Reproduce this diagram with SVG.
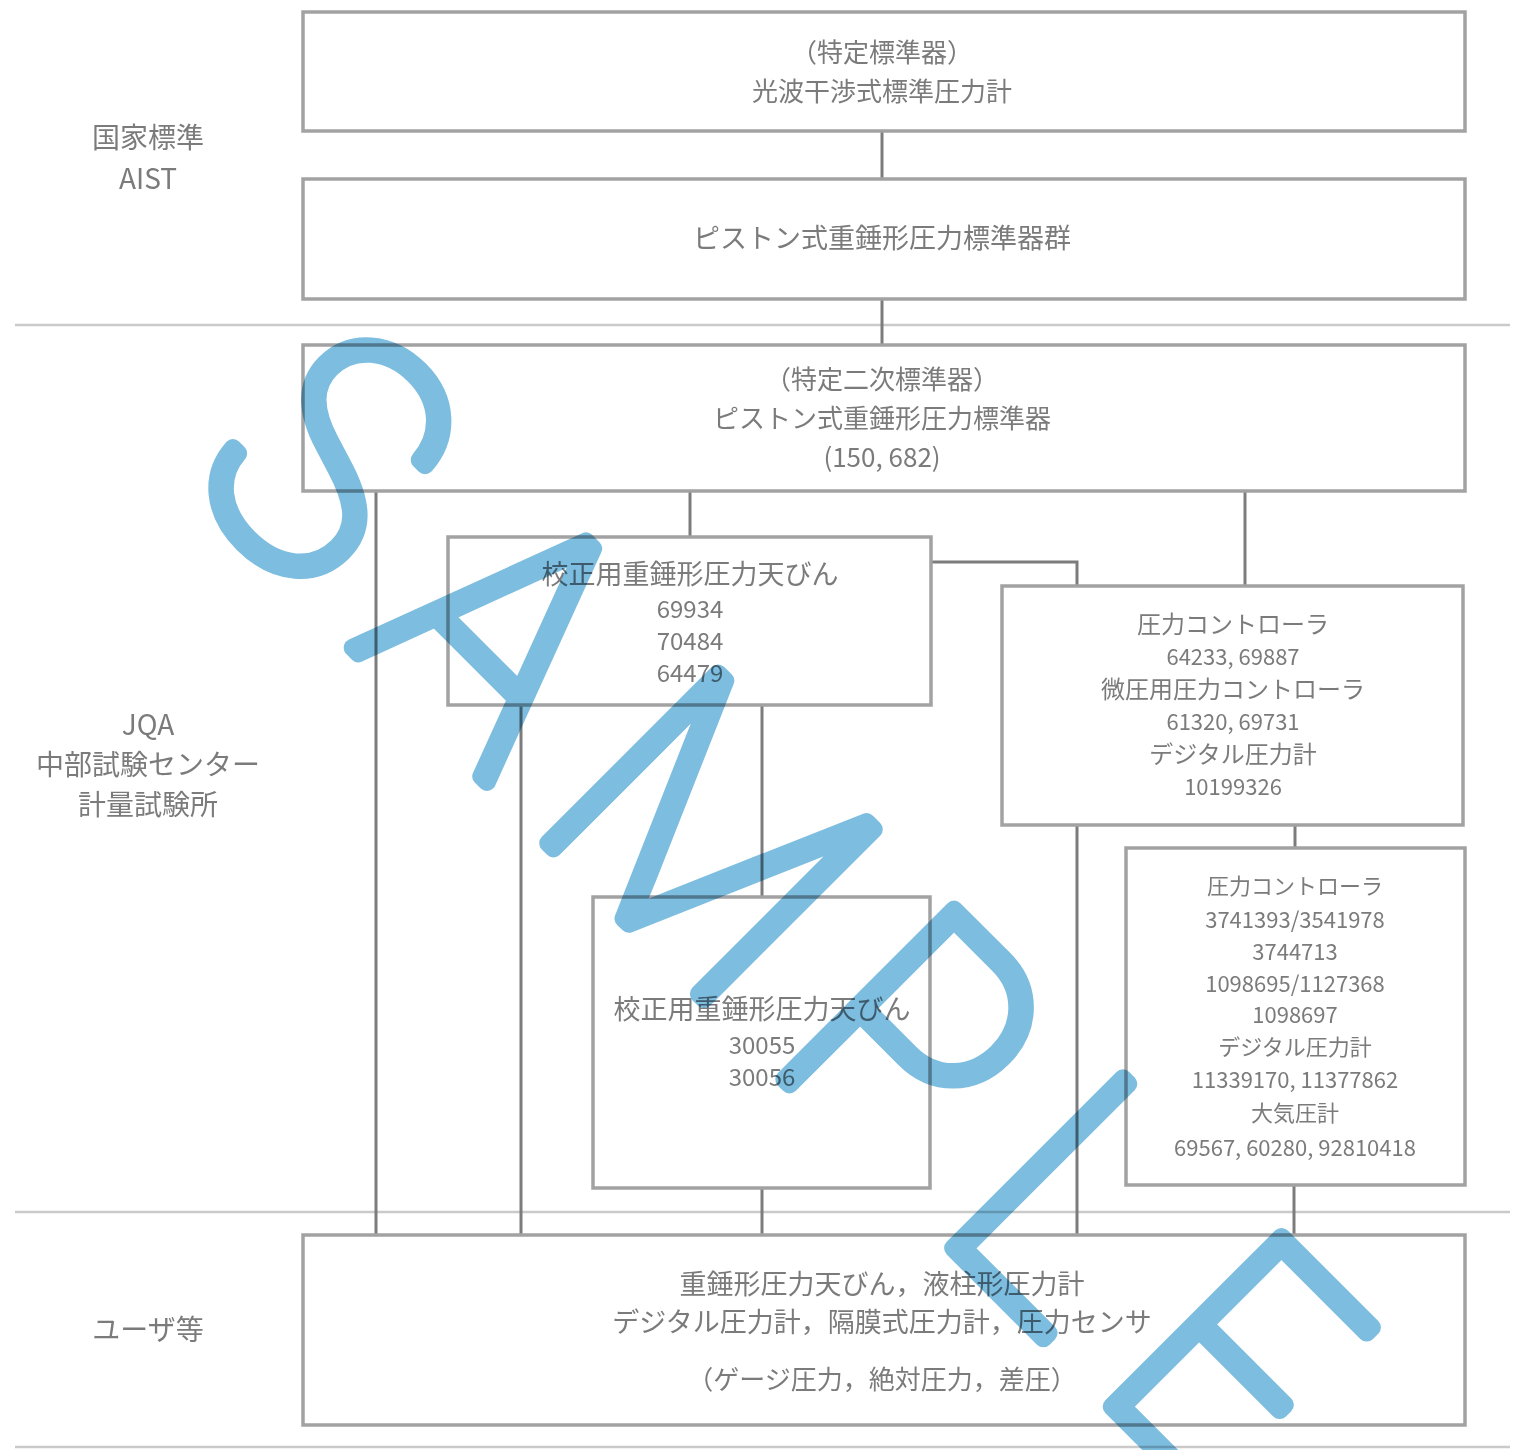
<svg xmlns="http://www.w3.org/2000/svg" width="1523" height="1450" viewBox="0 0 1523 1450">
<style>
.box{fill:none;stroke:#a2a2a2;stroke-width:3.5}
.conn{fill:none;stroke:#7c7c7c;stroke-width:3}
.sep{fill:none;stroke:#cacaca;stroke-width:2.5}
text{font-family:"Noto Sans CJK JP","Liberation Sans",sans-serif;fill:#7b7b7b;text-anchor:middle}
.f26{font-size:26px}.f27{font-size:27px}.f28{font-size:28px}.f24{font-size:24px}.f22{font-size:22px}
.wm{font-family:Inter,Lato,"Noto Sans","DejaVu Sans",sans-serif;font-weight:100;font-size:330px;fill:#7dbddf;stroke:#7dbddf;stroke-width:18;stroke-linejoin:round;stroke-linecap:round;text-anchor:start;mix-blend-mode:multiply}
</style>
<rect width="1523" height="1450" fill="#ffffff"/>
<g id="separators">
<line class="sep" x1="15" y1="325" x2="1510" y2="325"/>
<line class="sep" x1="15" y1="1212" x2="1510" y2="1212"/>
<line class="sep" x1="15" y1="1447" x2="1510" y2="1447"/>
</g>
<g id="connectors">
<path class="conn" d="M882,131V179"/>
<path class="conn" d="M882,299V345"/>
<path class="conn" d="M376,491V1235"/>
<path class="conn" d="M690,491V537"/>
<path class="conn" d="M1245,491V586"/>
<path class="conn" d="M521,705V1235"/>
<path class="conn" d="M762,705V897"/>
<path class="conn" d="M931,562H1077V586"/>
<path class="conn" d="M1077,825V1235"/>
<path class="conn" d="M1295,825V848"/>
<path class="conn" d="M762,1188V1235"/>
<path class="conn" d="M1294,1185V1235"/>
</g>
<g id="label-national">
<text class="f28" x="148" y="148">国家標準</text>
<text class="f28" x="148" y="189">AIST</text>
</g>
<g id="label-jqa">
<text class="f28" x="148" y="735">JQA</text>
<text class="f28" x="148" y="775">中部試験センター</text>
<text class="f28" x="148" y="815">計量試験所</text>
</g>
<g id="label-user">
<text class="f28" x="148" y="1340">ユーザ等</text>
</g>
<g id="node-primary">
<rect class="box" x="303" y="12" width="1162" height="119"/>
<text class="f26" x="882" y="62">（特定標準器）</text>
<text class="f26" x="882" y="101">光波干渉式標準圧力計</text>
</g>
<g id="node-group">
<rect class="box" x="303" y="179" width="1162" height="120"/>
<text class="f27" x="882" y="248">ピストン式重錘形圧力標準器群</text>
</g>
<g id="node-secondary">
<rect class="box" x="303" y="345" width="1162" height="146"/>
<text class="f26" x="882" y="389">（特定二次標準器）</text>
<text class="f26" x="882" y="428">ピストン式重錘形圧力標準器</text>
<text class="f26" x="882" y="467">(150, 682)</text>
</g>
<g id="node-balance1">
<rect class="box" x="448" y="537" width="483" height="168"/>
<text class="f27" x="690" y="584">校正用重錘形圧力天びん</text>
<text class="f24" x="690" y="618">69934</text>
<text class="f24" x="690" y="650">70484</text>
<text class="f24" x="690" y="682">64479</text>
</g>
<g id="node-controller1">
<rect class="box" x="1002" y="586" width="461" height="239"/>
<text class="f24" x="1233" y="633">圧力コントローラ</text>
<text class="f22" x="1233" y="665">64233, 69887</text>
<text class="f24" x="1233" y="698">微圧用圧力コントローラ</text>
<text class="f22" x="1233" y="730">61320, 69731</text>
<text class="f24" x="1233" y="763">デジタル圧力計</text>
<text class="f22" x="1233" y="795">10199326</text>
</g>
<g id="node-balance2">
<rect class="box" x="593" y="897" width="337" height="291"/>
<text class="f27" x="762" y="1019">校正用重錘形圧力天びん</text>
<text class="f24" x="762" y="1054">30055</text>
<text class="f24" x="762" y="1086">30056</text>
</g>
<g id="node-controller2">
<rect class="box" x="1126" y="848" width="339" height="337"/>
<text class="f22" x="1295" y="894">圧力コントローラ</text>
<text class="f22" x="1295" y="928">3741393/3541978</text>
<text class="f22" x="1295" y="960">3744713</text>
<text class="f22" x="1295" y="992">1098695/1127368</text>
<text class="f22" x="1295" y="1023">1098697</text>
<text class="f22" x="1295" y="1055">デジタル圧力計</text>
<text class="f22" x="1295" y="1088">11339170, 11377862</text>
<text class="f22" x="1295" y="1121">大気圧計</text>
<text class="f22" x="1295" y="1156">69567, 60280, 92810418</text>
</g>
<g id="node-users">
<rect class="box" x="303" y="1235" width="1162" height="190"/>
<text class="f27" x="882" y="1294">重錘形圧力天びん，液柱形圧力計</text>
<text class="f27" x="882" y="1332">デジタル圧力計，隔膜式圧力計，圧力センサ</text>
<text class="f26" x="882" y="1389">（ゲージ圧力，絶対圧力，差圧）</text>
</g>
<g id="watermark">
<text class="wm" transform="translate(175,470) rotate(45)" x="0" y="0" textLength="1480" lengthAdjust="spacing">SAMPLE</text>
</g>
</svg>
